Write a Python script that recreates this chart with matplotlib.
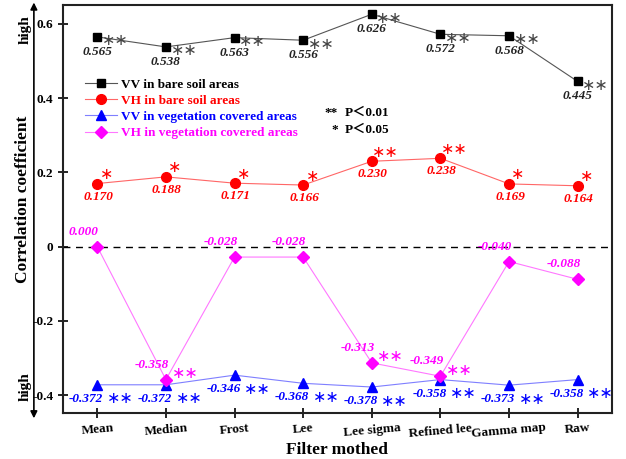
import numpy as np
import matplotlib.pyplot as plt

# =========================
# DATA
# =========================
filters = ["Mean", "Median", "Frost", "Lee", "Lee sigma", "Refined lee", "Gamma map", "Raw"]

vv_bare = [0.565, 0.538, 0.563, 0.556, 0.626, 0.572, 0.568, 0.445]
vh_bare = [0.170, 0.188, 0.171, 0.166, 0.230, 0.238, 0.169, 0.164]
vv_veg = [-0.372, -0.372, -0.346, -0.368, -0.378, -0.358, -0.373, -0.358]
vh_veg = [0.000, -0.358, -0.028, -0.028, -0.313, -0.349, -0.040, -0.088]

sig_vv_bare = ["**"] * 8
sig_vh_bare = ["*", "*", "*", "*", "**", "**", "*", "*"]
sig_vv_veg = ["**"] * 8
sig_vh_veg = ["", "**", "", "", "**", "**", "", ""]

yticks = [-0.4, -0.2, 0, 0.2, 0.4, 0.6]
ytick_labels = ["-0.4", "-0.2", "0", "0.2", "0.4", "0.6"]

plt.rcParams['font.family'] = ['Liberation Serif', 'Noto Sans CJK SC', 'DejaVu Sans']
plt.rcParams['font.weight'] = 'bold'

fig = plt.figure(figsize=(6.26, 4.59), dpi=100)
ax = fig.add_axes([0.1006, 0.1002, 0.877, 0.889])
x = np.arange(len(filters))

series = [
    (vv_bare, sig_vv_bare, 's', '#000000', '#555555', '#333333', "VV in bare soil areas", 6),
    (vh_bare, sig_vh_bare, 'o', '#ff0000', '#ff6666', '#ff0000', "VH in bare soil areas", 7),
    (vv_veg, sig_vv_veg, '^', '#0000ff', '#7f7fff', '#0000ff', "VV in vegetation covered areas", 7),
    (vh_veg, sig_vh_veg, 'D', '#ff00ff', '#ff77ff', '#ff00ff', "VH in vegetation covered areas", 6),
]

ax.axhline(0, color='black', linestyle=(0, (5, 4)), linewidth=1.0, zorder=1)

for vals, sig, mk, mc, lc, sc, lab, ms in series:
    ax.plot(x, vals, marker=mk, color=lc, markerfacecolor=mc, markeredgecolor=mc,
            markersize=ms, linewidth=0.8, label=lab, zorder=3)

lab_kw = dict(textcoords='offset pixels', fontsize=9.5, fontweight='bold', style='italic',
              ha='center', va='center', annotation_clip=False)
star_kw = dict(textcoords='offset pixels', fontsize=11.5, fontweight='normal',
               family='DejaVu Sans', ha='center', va='center', annotation_clip=False)

# VV bare soil: value below, stars right
for i, (v, s) in enumerate(zip(vv_bare, sig_vv_bare)):
    ax.annotate(f"{v:.3f}", (i, v), xytext=(0, -15), color='#222222', **lab_kw)
    ax.annotate(s.replace("*", "∗"), (i, v), xytext=(18, -4), color='#444444', **star_kw)

# VH bare soil: value below, stars up-right
for i, (v, s) in enumerate(zip(vh_bare, sig_vh_bare)):
    ax.annotate(f"{v:.3f}", (i, v), xytext=(1, -13), color='#ff0000', **lab_kw)
    dx = 9 if len(s) == 1 else 14
    ax.annotate(s.replace("*", "∗"), (i, v), xytext=(dx, 9), color='#ff0000', **star_kw)

# VV vegetation: value and stars below
for i, (v, s) in enumerate(zip(vv_veg, sig_vv_veg)):
    ax.annotate(f"{v:.3f}", (i, v), xytext=(-11, -14), color='#0000ff', **lab_kw)
    ax.annotate(s.replace("*", "∗"), (i, v), xytext=(23, -14), color='#0000ff', **star_kw)

# VH vegetation: value above-left, stars right
for i, (v, s) in enumerate(zip(vh_veg, sig_vh_veg)):
    ax.annotate(f"{v:.3f}", (i, v), xytext=(-14, 15), color='#ff00ff', **lab_kw)
    if s:
        ax.annotate(s.replace("*", "∗"), (i, v), xytext=(19, 6), color='#ff00ff', **star_kw)

ax.set_xlim(-0.5, 7.5)
ax.set_ylim(-0.448, 0.651)
ax.set_yticks(yticks)
ax.set_yticklabels(ytick_labels, fontsize=9.5, fontweight='bold')
ax.set_xticks(x)
ax.set_xticklabels(filters, fontsize=9.5, fontweight='bold', rotation=5)
ax.tick_params(axis='both', direction='inout', length=7, width=1.2)
ax.tick_params(axis='x', pad=3)
for sp in ax.spines.values():
    sp.set_linewidth(1.5)
    sp.set_color('#222222')

ax.set_xlabel("Filter mothed", fontsize=12.5, fontweight='bold', labelpad=1)

leg = ax.legend(loc='upper left', bbox_to_anchor=(0.04, 0.82), frameon=False,
                prop=dict(family='Liberation Serif', weight='bold', size=9.5),
                handlelength=2.4, handletextpad=0.3, labelspacing=0.3,
                borderpad=0, borderaxespad=0)
for t, s in zip(leg.get_texts(), series):
    t.set_color(s[3])

# significance key
key_font = ['Liberation Serif', 'Noto Sans CJK SC']
ax.text(0.501, 0.735, "**", transform=ax.transAxes, ha='right', va='center', fontsize=9.5)
ax.text(0.514, 0.735, "P＜0.01", transform=ax.transAxes, ha='left', va='center',
        fontsize=9.5, family=key_font)
ax.text(0.501, 0.694, "*", transform=ax.transAxes, ha='right', va='center', fontsize=9.5)
ax.text(0.514, 0.694, "P＜0.05", transform=ax.transAxes, ha='left', va='center',
        fontsize=9.5, family=key_font)

# double arrow with "high" at both ends
ax.annotate('', xy=(-0.053, 1.006), xytext=(-0.053, -0.013), xycoords='axes fraction',
            textcoords='axes fraction', annotation_clip=False,
            arrowprops=dict(arrowstyle='<|-|>', color='black', lw=1.2,
                            mutation_scale=10, shrinkA=0, shrinkB=0))
fig.text(0.040, 0.935, "high", rotation=90, ha='center', va='center', fontsize=11, fontweight='bold')
fig.text(0.040, 0.157, "high", rotation=90, ha='center', va='center', fontsize=11, fontweight='bold')
fig.text(0.037, 0.565, "Correlation coefficient", rotation=90, ha='center', va='center',
         fontsize=12.5, fontweight='bold')

fig.savefig("out.png", dpi=100)
plt.close(fig)
